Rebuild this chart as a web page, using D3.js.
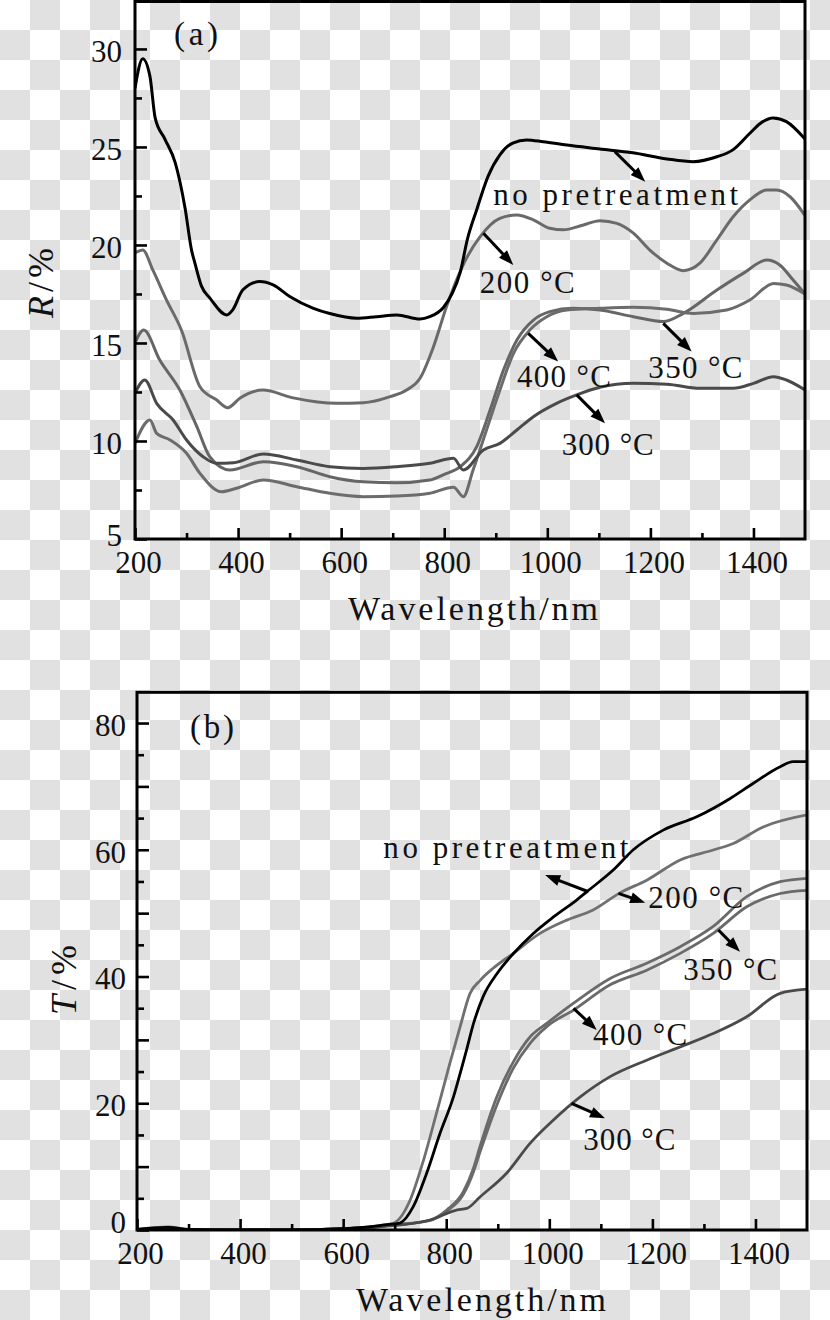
<!DOCTYPE html>
<html>
<head>
<meta charset="utf-8">
<script src="https://cdn.jsdelivr.net/npm/d3@7"></script>
<style>
  html, body { margin: 0; padding: 0; background: #fff; }
  svg { display: block; }
</style>
</head>
<body>
<svg id="chart" width="830" height="1320"></svg>
<script>
/* Reflectance (a) and transmittance (b) spectra, two stacked panels */

const FONT = '"Liberation Serif", "Times New Roman", serif';

// ── axis ticks ──
const waveTicks = [200, 400, 600, 800, 1000, 1200, 1400];
const waveMinor = [300, 500, 700, 900, 1100, 1300];
const rTicks = [5, 10, 15, 20, 25, 30];
const rMinor = [7.5, 12.5, 17.5, 22.5, 27.5];
const tTicks = [0, 20, 40, 60, 80];
const tMid = [10, 30, 50, 70];
const tMinor = [5, 15, 25, 35, 45, 55, 65, 75];

// ── (a) reflectance R/% : [wavelength nm, R] ──
const rNone = [[200,28.0],[215,29.5],[229,28.6],[239,26.5],[258,25.4],[278,24.2],[297,21.9],[310,19.7],[316,19.1],[329,17.9],[345,17.3],[378,16.43],[390,16.7],[409,17.7],[442,18.13],[468,17.96],[501,17.36],[545,16.78],[578,16.5],[630,16.26],[669,16.34],[708,16.43],[753,16.22],[772,16.34],[798,16.8],[815,17.5],[831,18.6],[845,20.3],[863,21.8],[885,23.5],[908,24.6],[933,25.2],[960,25.36],[992,25.27],[1038,25.1],[1102,24.9],[1166,24.7],[1232,24.39],[1283,24.25],[1329,24.5],[1360,24.85],[1393,25.7],[1413,26.2],[1438,26.48],[1464,26.29],[1500,25.4]];
const r200 = [[200,19.6],[215,19.74],[235,18.7],[261,17.2],[290,15.66],[326,12.77],[358,12.1],[380,11.7],[404,12.19],[448,12.6],[507,12.2],[591,11.92],[643,11.95],[695,12.26],[727,12.6],[753,13.2],[779,14.8],[805,16.9],[837,19.0],[869,20.4],[908,21.36],[941,21.53],[973,21.28],[1005,20.85],[1031,20.77],[1070,21.02],[1102,21.24],[1135,21.1],[1167,20.6],[1199,19.74],[1232,19.07],[1264,18.69],[1296,19.07],[1329,20.26],[1361,21.45],[1393,22.3],[1426,22.8],[1445,22.8],[1471,22.46],[1500,21.5]];
const r300 = [[200,12.43],[219,13.11],[242,11.92],[274,11.07],[300,10.05],[332,9.2],[358,8.86],[391,8.89],[449,9.34],[514,9.03],[578,8.69],[643,8.6],[708,8.69],[772,8.86],[818,9.12],[837,8.52],[876,9.54],[908,9.88],[941,10.56],[973,11.24],[1018,11.92],[1057,12.35],[1102,12.74],[1167,12.94],[1232,12.9],[1296,12.69],[1361,12.69],[1400,12.94],[1439,13.28],[1464,13.11],[1500,12.6]];
const r350 = [[200,15.0],[217,15.66],[248,14.13],[287,12.6],[320,10.73],[345,9.2],[384,8.52],[449,8.94],[514,8.69],[578,8.18],[643,7.92],[708,7.87],[772,8.01],[800,8.3],[831,8.69],[863,9.71],[889,11.58],[915,13.62],[941,15.15],[973,16.17],[1005,16.6],[1050,16.77],[1102,16.68],[1167,16.34],[1225,16.09],[1264,16.51],[1329,17.7],[1380,18.55],[1426,19.23],[1451,18.98],[1477,18.21],[1500,17.5]];
const r400 = [[200,9.88],[229,11.07],[242,10.39],[268,10.05],[300,9.37],[326,8.35],[368,7.41],[397,7.59],[449,8.01],[514,7.67],[578,7.33],[643,7.16],[708,7.19],[772,7.33],[818,7.64],[837,7.16],[856,8.52],[882,10.56],[908,12.6],[934,14.45],[966,15.66],[999,16.34],[1038,16.68],[1102,16.77],[1167,16.82],[1232,16.72],[1283,16.51],[1348,16.68],[1393,17.19],[1439,18.04],[1464,17.96],[1500,17.5]];

// ── (b) transmittance T/% : [wavelength nm, T] ──
const tNone = [[200,0.1],[260,0.4],[300,0.1],[400,0],[500,0],[600,0.2],[650,0.5],[680,0.8],[710,1.1],[736,3.68],[762,8.95],[788,15.26],[814,21.0],[830,25.6],[840,28.6],[853,32.6],[872,36.9],[898,40.4],[930,43.6],[969,46.8],[1008,49.4],[1053,52.07],[1073,53.4],[1124,56.8],[1163,60.0],[1221,63.1],[1286,65.2],[1351,68.1],[1396,70.5],[1448,73.1],[1473,73.9],[1500,73.9]];
const t200 = [[200,0.1],[260,0.5],[300,0.1],[400,0],[500,0],[600,0.2],[650,0.5],[697,1.05],[730,4.73],[756,11.04],[781,18.4],[807,26.3],[827,32.1],[846,37.3],[866,39.4],[891,41.3],[930,43.65],[982,46.8],[1034,48.9],[1085,50.5],[1137,53.2],[1189,55.2],[1254,58.4],[1318,59.96],[1357,61.0],[1415,63.6],[1500,65.5]];
const t300 = [[200,0.1],[300,0.05],[400,0],[500,0],[600,0.2],[671,0.5],[769,1.58],[820,3.15],[840,3.4],[866,5.25],[917,8.95],[963,13.7],[1008,17.35],[1060,21.0],[1118,24.2],[1189,26.8],[1254,28.9],[1318,31.0],[1383,33.65],[1448,37.35],[1500,38.0]];
const t350 = [[200,0.1],[300,0.05],[400,0],[500,0],[600,0.2],[650,0.4],[700,0.8],[769,1.58],[801,3.15],[833,6.0],[853,9.8],[866,13.3],[898,21.0],[930,26.5],[963,30.5],[995,32.6],[1047,35.8],[1118,39.7],[1189,42.1],[1254,44.7],[1318,47.9],[1383,52.6],[1448,54.96],[1500,55.5]];
const t400 = [[200,0.1],[300,0.05],[400,0],[500,0],[600,0.2],[650,0.4],[700,0.8],[769,1.5],[801,3.0],[833,5.6],[853,9.2],[866,12.4],[898,19.7],[930,25.5],[963,29.5],[995,32.1],[1047,34.7],[1118,38.7],[1189,41.0],[1254,43.65],[1318,46.8],[1383,51.0],[1448,53.1],[1500,53.6]];

// ── annotations: label position, arrow start → arrow tip (data units) ──
const rNotes = [
  { text: 'no pretreatment', at: [895, 22.04],  from: [1131, 24.76], to: [1190, 23.23] },
  { text: '200 °C',          at: [869, 17.54],  from: [876, 20.6],   to: [934, 18.98] },
  { text: '400 °C',          at: [941, 12.77],  from: [963, 15.49],  to: [1021, 14.05] },
  { text: '350 °C',          at: [1196, 13.2],  from: [1225, 16.0],  to: [1280, 14.56] },
  { text: '300 °C',          at: [1028, 9.29],  from: [1057, 12.35], to: [1112, 10.9] }
];
const tNotes = [
  { text: 'no pretreatment', at: [678, 58.65],  from: [1076, 53.38], to: [992, 56.0] },
  { text: '200 °C',          at: [1192, 50.76], from: [1134, 53.13], to: [1186, 51.64] },
  { text: '350 °C',          at: [1260, 39.45], from: [1328, 47.34], to: [1370, 43.9] },
  { text: '400 °C',          at: [1085, 29.19], from: [1047, 34.98], to: [1092, 31.56] },
  { text: '300 °C',          at: [1066, 12.62], from: [1043, 19.99], to: [1108, 17.63] }
];

// rendered widths of the serif labels (px), to mimic the original's wider face
const LABEL_W = { 'no pretreatment': 245, '200 °C': 95, '300 °C': 92, '350 °C': 94, '400 °C': 94 };

const svg = d3.select('#chart');
const defs = svg.append('defs');

// transparency-style checkerboard behind everything
const pat = defs.append('pattern').attr('id', 'checker')
  .attr('width', 60).attr('height', 60).attr('patternUnits', 'userSpaceOnUse');
pat.append('rect').attr('width', 60).attr('height', 60).attr('fill', '#ffffff');
pat.append('rect').attr('x', 30).attr('width', 30).attr('height', 30).attr('fill', '#e1e1e1');
pat.append('rect').attr('y', 30).attr('width', 30).attr('height', 30).attr('fill', '#e1e1e1');
svg.append('rect').attr('width', 830).attr('height', 1320).attr('fill', 'url(#checker)');

function drawArrow(g, x, y, a) {
  const xa = x(a.from[0]), ya = y(a.from[1]);
  const xb = x(a.to[0]),   yb = y(a.to[1]);
  const ang = Math.atan2(yb - ya, xb - xa);
  const L = 15, W = 5.5;
  const bx = xb - L * Math.cos(ang), by = yb - L * Math.sin(ang);
  g.append('line')
    .attr('x1', xa).attr('y1', ya).attr('x2', bx + 2 * Math.cos(ang)).attr('y2', by + 2 * Math.sin(ang))
    .attr('stroke', '#000').attr('stroke-width', 3);
  g.append('path')
    .attr('d', `M${xb},${yb}L${bx + W * Math.sin(ang)},${by - W * Math.cos(ang)}L${bx - W * Math.sin(ang)},${by + W * Math.cos(ang)}Z`)
    .attr('fill', '#000');
}

function drawPanel(p) {
  const x = d3.scaleLinear().domain([200, 1500]).range([p.box.left, p.box.right]);
  const y = d3.scaleLinear().domain(p.yDomain).range([p.box.bottom, p.box.top]);
  const g = svg.append('g');

  const clipId = 'clip-' + p.id;
  defs.append('clipPath').attr('id', clipId).append('rect')
    .attr('x', p.box.left).attr('y', p.box.top)
    .attr('width', p.box.right - p.box.left).attr('height', p.box.bottom - p.box.top);

  const line = d3.line().x(d => x(d[0])).y(d => y(d[1])).curve(d3.curveMonotoneX);

  const curves = g.append('g').attr('clip-path', `url(#${clipId})`);
  p.series.forEach(s => {
    curves.append('path').datum(s.data)
      .attr('d', line)
      .attr('fill', 'none')
      .attr('stroke', s.color)
      .attr('stroke-width', s.width)
      .attr('stroke-linejoin', 'round');
  });

  // frame
  g.append('rect')
    .attr('x', p.box.left).attr('y', p.box.top)
    .attr('width', p.box.right - p.box.left).attr('height', p.box.bottom - p.box.top)
    .attr('fill', 'none').attr('stroke', '#000').attr('stroke-width', 3);

  const styleAxis = sel => {
    sel.select('.domain').remove();
    sel.attr('font-family', FONT).attr('font-size', 31);
    sel.selectAll('line').attr('stroke', '#000').attr('stroke-width', 2.6);
    sel.selectAll('text').attr('fill', '#111');
  };

  // bottom axis
  g.append('g').attr('transform', `translate(0,${p.box.bottom})`)
    .call(d3.axisBottom(x).tickValues(waveTicks).tickFormat(d3.format('d'))
      .tickSize(-11).tickSizeOuter(0).tickPadding(p.xPad))
    .call(styleAxis)
    .selectAll('text').attr('dx', 3);
  g.append('g').attr('transform', `translate(0,${p.box.bottom})`)
    .call(d3.axisBottom(x).tickValues(waveMinor).tickSize(-6).tickSizeOuter(0).tickFormat(''))
    .call(styleAxis);

  // left axis (lowest label sits a little higher, as in the original)
  const lowest = p.yTicks[0];
  g.append('g').attr('transform', `translate(${p.box.left},0)`)
    .call(d3.axisLeft(y).tickValues(p.yTicks).tickFormat(d3.format('d'))
      .tickSize(-12).tickSizeOuter(0).tickPadding(p.yPad))
    .call(styleAxis)
    .selectAll('text').attr('dy', d => d === lowest ? p.lowDy : '0.4em');
  p.yOther.forEach(o => {
    g.append('g').attr('transform', `translate(${p.box.left},0)`)
      .call(d3.axisLeft(y).tickValues(o.values).tickSize(-o.size).tickSizeOuter(0).tickFormat(''))
      .call(styleAxis);
  });

  // axis titles
  g.append('text')
    .attr('x', p.xTitle[0]).attr('y', p.xTitle[1])
    .attr('text-anchor', 'middle')
    .attr('font-family', FONT).attr('font-size', 34).attr('fill', '#111')
    .attr('textLength', 250).attr('lengthAdjust', 'spacing')
    .text('Wavelength/nm');

  const yt = g.append('text')
    .attr('transform', `translate(${p.yTitle[0]},${p.yTitle[1]}) rotate(-90)`)
    .attr('text-anchor', 'middle')
    .attr('font-family', FONT).attr('font-size', 36).attr('fill', '#111')
    .attr('textLength', 70).attr('lengthAdjust', 'spacing');
  yt.append('tspan').attr('font-style', 'italic').text(p.yVar);
  yt.append('tspan').text('/%');

  // panel tag
  g.append('text')
    .attr('x', p.tag.pos[0]).attr('y', p.tag.pos[1])
    .attr('font-family', FONT).attr('font-size', 33).attr('fill', '#111')
    .attr('textLength', 44).attr('lengthAdjust', 'spacing')
    .text(p.tag.text);

  // annotations
  const notes = g.append('g');
  p.notes.forEach(n => {
    drawArrow(notes, x, y, n);
    notes.append('text')
      .attr('x', x(n.at[0])).attr('y', y(n.at[1]))
      .attr('font-family', FONT).attr('font-size', 31).attr('fill', '#111')
      .attr('textLength', LABEL_W[n.text]).attr('lengthAdjust', 'spacing')
      .text(n.text);
  });
}

drawPanel({
  id: 'a',
  box: { left: 135, right: 805, top: 1.5, bottom: 539 },
  yDomain: [5, 32.42],
  yTicks: rTicks,
  yOther: [{ values: rMinor, size: 7 }],
  xPad: 12, yPad: 13, lowDy: '0.2em',
  yVar: 'R',
  xTitle: [473, 620],
  yTitle: [53, 283],
  tag: { text: '(a)', pos: [174, 45] },
  notes: rNotes,
  series: [
    { data: r200,  color: '#6a6a6a', width: 3 },
    { data: r350,  color: '#666666', width: 3 },
    { data: r400,  color: '#6c6c6c', width: 3 },
    { data: r300,  color: '#4a4a4a', width: 3 },
    { data: rNone, color: '#000000', width: 3 }
  ]
});

drawPanel({
  id: 'b',
  box: { left: 137, right: 807, top: 692.3, bottom: 1230 },
  yDomain: [0, 84.85],
  yTicks: tTicks,
  yOther: [{ values: tMid, size: 12 }, { values: tMinor, size: 7 }],
  xPad: 12, yPad: 11, lowDy: '0.08em',
  yVar: 'T',
  xTitle: [481, 1311],
  yTitle: [76, 980],
  tag: { text: '(b)', pos: [190, 738] },
  notes: tNotes,
  series: [
    { data: t200,  color: '#707070', width: 2.8 },
    { data: t350,  color: '#6a6a6a', width: 2.8 },
    { data: t400,  color: '#6a6a6a', width: 2.8 },
    { data: t300,  color: '#4a4a4a', width: 2.8 },
    { data: tNone, color: '#000000', width: 2.8 }
  ]
});
</script>
</body>
</html>
